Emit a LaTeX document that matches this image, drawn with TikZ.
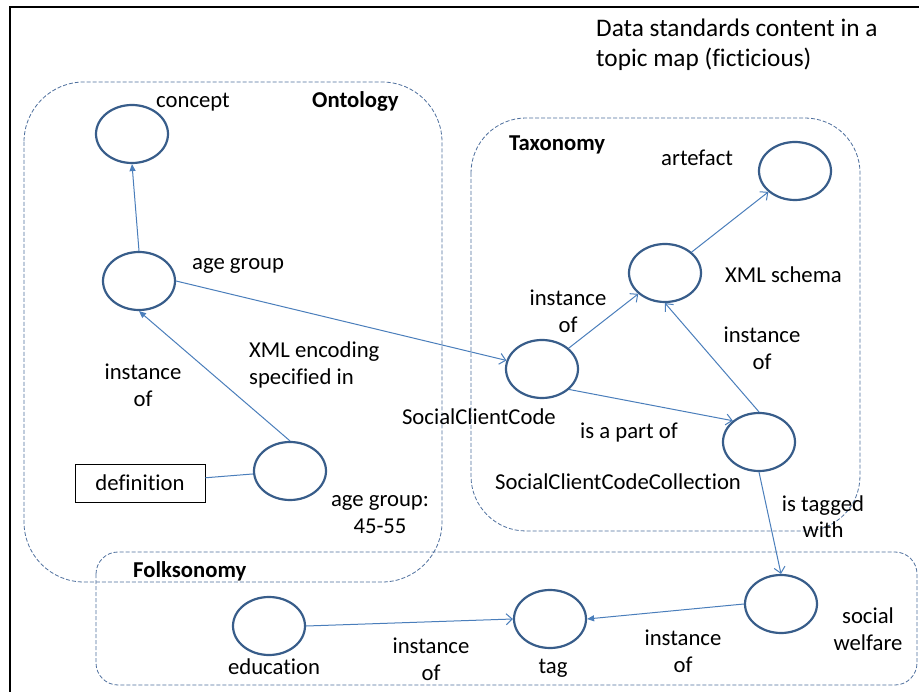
\documentclass[tikz,border=0pt]{standalone}
\usepackage{fontspec}
\setmainfont{Carlito}[Ligatures=NoCommon]
\usetikzlibrary{shapes.geometric,arrows.meta}
\definecolor{ellblue}{RGB}{56,93,138}
\definecolor{lineblue}{RGB}{74,126,187}
\definecolor{dashblue}{RGB}{79,112,158}
\tikzset{
  topic/.style={ellipse,draw=ellblue,line width=2.2pt,minimum width=72pt,minimum height=58pt,inner sep=0pt},
  lbl/.style={inner sep=0pt,font=\fontsize{22.7}{27}\selectfont},
  blbl/.style={inner sep=0pt,font=\fontsize{22.7}{27}\selectfont\bfseries},
  lbl2/.style={inner sep=0pt,align=center,font=\fontsize{22.7}{27}\selectfont},
  link/.style={draw=lineblue,line width=1pt},
  fillarr/.style={link,-{Triangle[length=7pt,width=6pt]}},
  openarr/.style={link,-{Straight Barb[length=6pt,width=11pt]}},
  region/.style={draw=dashblue,line width=0.8pt,dash pattern=on 4pt off 2pt},
}
\begin{document}
\begin{tikzpicture}[x=1pt,y=-1pt]
\useasboundingbox (0,0) rectangle (919,692);
\fill[white] (0,0) rectangle (919,692);
% outer frame
\draw[line width=2pt] (10,692) -- (10,7) -- (919,7);
% regions
\draw[region,rounded corners=60pt] (24,82) rectangle (442,582);
\draw[region,rounded corners=55pt] (471,118) rectangle (860,531);
\draw[region,rounded corners=22pt] (96,552) rectangle (917,685);
% title
\node[inner sep=0pt,align=left,anchor=base west,font=\fontsize{25.3}{30}\selectfont] (title) at (596,67) {Data standards content in a\\topic map (ficticious)};
% region labels
\node[blbl,anchor=base west] (ontlbl) at (312,108) {Ontology};
\node[blbl,anchor=base west] (taxlbl) at (509,151) {Taxonomy};
\node[blbl,anchor=base west] (folklbl) at (133,577) {Folksonomy};
% topics
\node[topic] (concept) at (132,134) {};
\node[topic] (ag) at (139,281) {};
\node[topic] (def) at (290,471) {};
\node[draw,line width=0.8pt,minimum width=130pt,minimum height=38pt,inner sep=0pt,font=\fontsize{22.7}{27}\selectfont] (defbox) at (140,483) {definition};
\node[topic] (scc) at (542,369) {};
\node[topic] (xml) at (665,273) {};
\node[topic] (sccc) at (759,442) {};
\node[topic] (art) at (795,171) {};
\node[topic] (sw) at (781,604) {};
\node[topic] (tag) at (550,619) {};
\node[topic] (edu) at (269,626) {};
% topic labels
\node[lbl,anchor=base west] (conceptlbl) at (156,108) {concept};
\node[lbl,anchor=base west] (aglbl) at (192,270) {age group};
\node[lbl2,anchor=base] (deflbl) at (380,533) {age group:\\45-55};
\node[lbl,anchor=base east] (scclbl) at (556,425) {SocialClientCode};
\node[lbl,anchor=base west] (xmllbl) at (725,283) {XML schema};
\node[lbl,anchor=base west] (sccclbl) at (495,490) {SocialClientCodeCollection};
\node[lbl,anchor=base west] (artlbl) at (661,166) {artefact};
\node[lbl2,anchor=base] (swlbl) at (868,650) {social\\welfare};
\node[lbl,anchor=base] (taglbl) at (553,673) {tag};
\node[lbl,anchor=base] (edulbl) at (274,674) {education};
% edges
\draw[fillarr] (ag.north) -- (concept.south);
\draw[fillarr] (def.north) -- (ag.south);
\draw[link] (def) -- (defbox);
\draw[openarr] (ag.east) -- (scc);
\draw[openarr] (scc) -- (xml);
\draw[openarr] (scc.-37) -- (sccc.141);
\draw[openarr] (sccc.north) -- (xml.south);
\draw[openarr] (xml) -- (art);
\draw[openarr] (sccc.south) -- (sw.north);
\draw[fillarr] (sw.west) -- (tag.east);
\draw[openarr] (edu.east) -- (tag.west);
% edge labels
\node[lbl2,anchor=base] (l1) at (143,407) {instance\\of};
\node[lbl,align=left,anchor=base west] (l2) at (249,385) {XML encoding\\specified in};
\node[lbl2,anchor=base] (l3) at (568,333) {instance\\of};
\node[lbl2,anchor=base] (l4) at (762,370) {instance\\of};
\node[lbl,anchor=base west] (l5) at (580,439) {is a part of};
\node[lbl2,anchor=base] (l6) at (823,538) {is tagged\\with};
\node[lbl2,anchor=base] (l7) at (431,680) {instance\\of};
\node[lbl2,anchor=base] (l8) at (683,672) {instance\\of};
\end{tikzpicture}
\end{document}
